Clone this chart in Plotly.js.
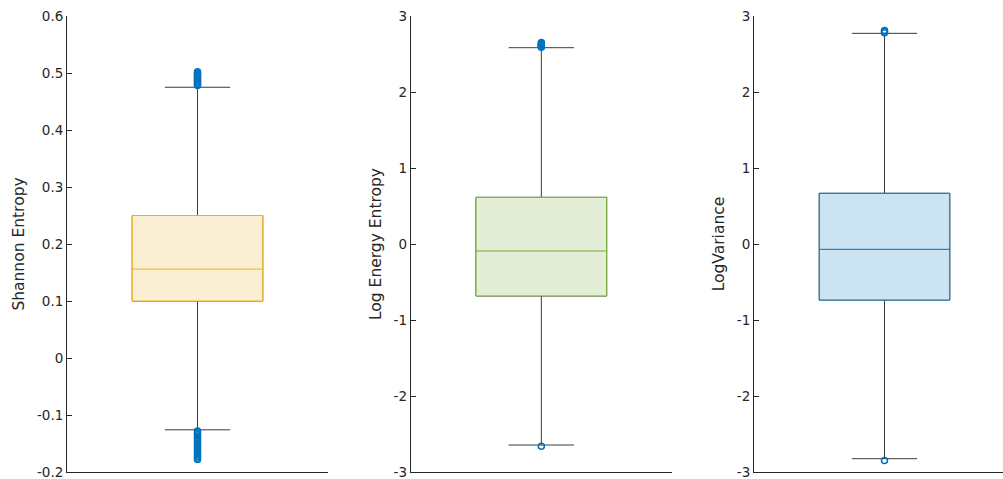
<!DOCTYPE html>
<html>
<head>
<meta charset="utf-8">
<script src="https://cdn.plot.ly/plotly-3.0.1.min.js"></script>
<style>
  html, body { margin: 0; padding: 0; overflow: hidden; background: #fff; }
  #chart { width: 1020px; height: 479px; }
</style>
</head>
<body>
<div id="chart"></div>
<script>
// ---- Data ----
const yTitles = ["Shannon Entropy", "Log Energy Entropy", "LogVariance"];

// box statistics per panel
const q1Values     = [0.100, -0.684, -0.737];
const medianValues = [0.156, -0.092, -0.070];
const q3Values     = [0.250, 0.614, 0.667];
const lowerWhisker = [-0.126, -2.645, -2.825];
const upperWhisker = [0.475, 2.583, 2.772];

// outliers per panel
const outliers1 = [0.478, 0.480, 0.482, 0.484, 0.486, 0.488, 0.490, 0.492, 0.494, 0.496, 0.498, 0.500, 0.502,
                   -0.128, -0.131, -0.134, -0.137, -0.140, -0.143, -0.146, -0.149, -0.152, -0.155, -0.158,
                   -0.161, -0.164, -0.167, -0.170, -0.173, -0.176, -0.178];
const outliers2 = [2.59, 2.60, 2.61, 2.62, 2.63, 2.64, 2.65, -2.66];
const outliers3 = [2.78, 2.80, 2.81, -2.85];

// axis ranges and ticks
const yRanges = [[-0.2, 0.6], [-3, 3], [-3, 3]];
const tickVals1 = [-0.2, -0.1, 0, 0.1, 0.2, 0.3, 0.4, 0.5, 0.6];
const tickText1 = ["-0.2", "-0.1", "0", "0.1", "0.2", "0.3", "0.4", "0.5", "0.6"];
const tickVals23 = [-3, -2, -1, 0, 1, 2, 3];
const tickText23 = ["-3", "-2", "-1", "0", "1", "2", "3"];

// ---- Styles ----
const edgeColors = ["#EDB120", "#77AC30", "#0072BD"];
const fillColors = ["#FBEFD3", "#E4EED6", "#CCE3F2"];
const whiskerColor = "#3a3a3a";
const outlierColor = "#0072BD";
const textColor = "#262626";
const fontFamily = "DejaVu Sans, Liberation Sans, Arial, sans-serif";

const outlierSets = [outliers1, outliers2, outliers3];
const W = 1020, H = 479;
const xDomains = [[67 / W, 328 / W], [410.7 / W, 672 / W], [754 / W, 1015 / W]];
const yDomain = [(H - 472) / H, (H - 16) / H];

const traces = [];
for (let i = 0; i < 3; i++) {
  const xa = i === 0 ? "x" : "x" + (i + 1);
  const ya = i === 0 ? "y" : "y" + (i + 1);
  // whiskers + caps (neutral colour)
  traces.push({
    type: "box", xaxis: xa, yaxis: ya, x: [1],
    q1: [q1Values[i]], median: [medianValues[i]], q3: [q3Values[i]],
    lowerfence: [lowerWhisker[i]], upperfence: [upperWhisker[i]],
    width: 0.5, whiskerwidth: 0.5,
    line: { color: whiskerColor, width: 1 },
    fillcolor: "rgba(0,0,0,0)",
    boxpoints: false, showlegend: false, hoverinfo: "skip"
  });
  // coloured box on top
  traces.push({
    type: "box", xaxis: xa, yaxis: ya, x: [1],
    q1: [q1Values[i]], median: [medianValues[i]], q3: [q3Values[i]],
    lowerfence: [q1Values[i]], upperfence: [q3Values[i]],
    width: 0.5, whiskerwidth: 0,
    line: { color: edgeColors[i], width: 1 },
    fillcolor: fillColors[i],
    boxpoints: false, showlegend: false, hoverinfo: "skip"
  });
  // outliers
  traces.push({
    type: "scatter", mode: "markers", xaxis: xa, yaxis: ya,
    x: outlierSets[i].map(() => 1), y: outlierSets[i],
    marker: { symbol: "circle-open", size: 6, color: outlierColor, line: { width: 1.5, color: outlierColor } },
    showlegend: false, hoverinfo: "skip"
  });
}

const layout = {
  width: W, height: H,
  margin: { l: 0, r: 0, t: 0, b: 0 },
  paper_bgcolor: "#fff", plot_bgcolor: "#fff",
  showlegend: false, boxmode: "overlay",
  font: { family: fontFamily, size: 13.5, color: textColor }
};

for (let i = 0; i < 3; i++) {
  const sx = i === 0 ? "" : String(i + 1);
  layout["xaxis" + sx] = {
    domain: xDomains[i], range: [0.5, 1.5], anchor: "y" + sx,
    showticklabels: false, ticks: "", showgrid: false, zeroline: false,
    showline: true, linecolor: textColor, linewidth: 1, fixedrange: true
  };
  layout["yaxis" + sx] = {
    domain: yDomain, range: yRanges[i], anchor: "x" + sx,
    tickmode: "array",
    tickvals: i === 0 ? tickVals1 : tickVals23,
    ticktext: i === 0 ? tickText1 : tickText23,
    ticks: "inside", ticklen: 5, tickwidth: 1, tickcolor: textColor,
    ticklabeloverflow: "allow",
    showgrid: false, zeroline: false,
    showline: true, linecolor: textColor, linewidth: 1,
    tickfont: { family: fontFamily, size: 13.5, color: textColor },
    title: { text: yTitles[i], font: { family: fontFamily, size: 15.5, color: textColor }, standoff: 8 },
    fixedrange: true
  };
}

Plotly.newPlot("chart", traces, layout, { displayModeBar: false, staticPlot: true });
</script>
</body>
</html>
